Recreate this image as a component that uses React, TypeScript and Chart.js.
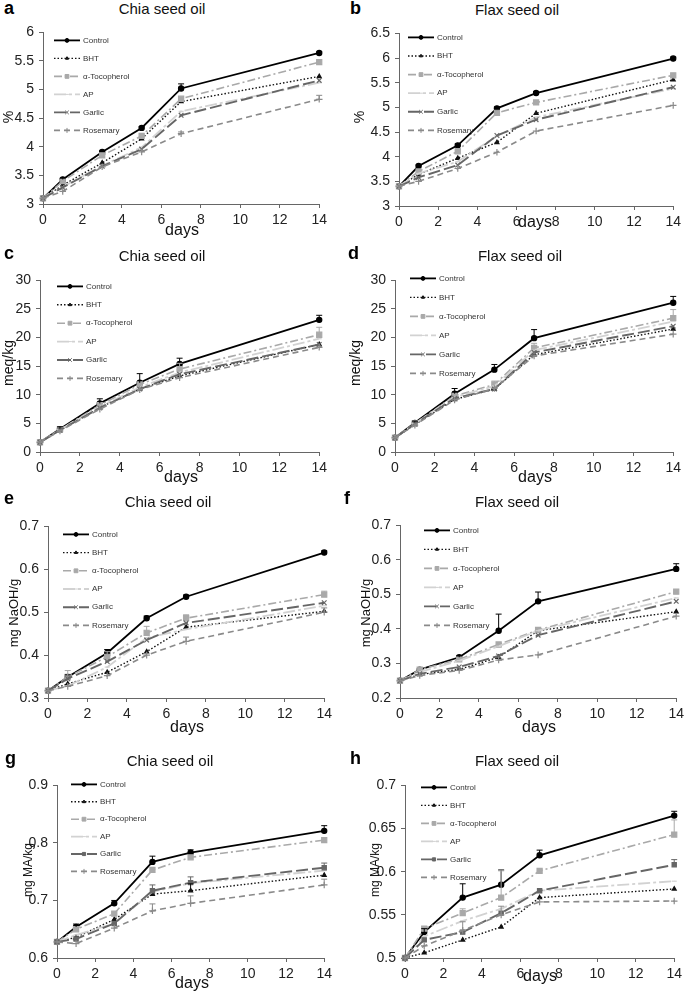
import React, { useEffect, useRef } from 'react';
import { Chart, registerables } from 'chart.js';
import { drawPoint } from 'chart.js/helpers';

Chart.register(...registerables);

// ---------- data ----------
const DAYS = [0, 1, 3, 5, 7, 14];
const SERIES = ['Control', 'BHT', 'α-Tocopherol', 'AP', 'Garlic', 'Rosemary'];

// a: Chia, conjugated dienes (%)
const aControl = [3.10, 3.43, 3.91, 4.33, 5.02, 5.64];
const aBHT = [3.10, 3.33, 3.72, 4.14, 4.79, 5.23];
const aToc = [3.10, 3.40, 3.85, 4.19, 4.84, 5.48];
const aAP = [3.10, 3.30, 3.67, 3.99, 4.62, 5.12];
const aGarlic = [3.10, 3.29, 3.66, 3.96, 4.55, 5.16];
const aRosemary = [3.10, 3.22, 3.65, 3.91, 4.23, 4.83];
const aControlErr = [0, 0.02, 0.02, 0.02, 0.08, 0.02];
const aRosemaryErr = [0, 0, 0, 0, 0.03, 0.07];

// b: Flax (%)
const bControl = [3.40, 3.81, 4.23, 4.98, 5.29, 5.99];
const bBHT = [3.40, 3.64, 3.97, 4.29, 4.88, 5.56];
const bToc = [3.40, 3.70, 4.11, 4.89, 5.10, 5.65];
const bAP = [3.40, 3.66, 3.90, 4.42, 4.80, 5.38];
const bGarlic = [3.40, 3.58, 3.83, 4.43, 4.75, 5.41];
const bRosemary = [3.40, 3.50, 3.76, 4.09, 4.52, 5.04];
const bControlErr = [0, 0.02, 0.03, 0.03, 0.03, 0.03];

// c: Chia, peroxide value (meq/kg)
const cControl = [1.7, 4.0, 8.5, 12.1, 15.4, 23.1];
const cBHT = [1.7, 3.8, 7.8, 11.0, 13.3, 18.8];
const cToc = [1.7, 3.9, 8.2, 11.8, 14.5, 20.5];
const cAP = [1.7, 3.9, 7.9, 11.3, 13.9, 19.8];
const cGarlic = [1.7, 3.8, 7.7, 11.0, 13.6, 18.8];
const cRosemary = [1.7, 3.7, 7.5, 10.9, 13.0, 18.3];
const cControlErr = [0, 0.4, 0.8, 1.6, 1.0, 0.8];
const cTocErr = [0, 0, 0, 0, 1.0, 1.3];

// d: Flax (meq/kg)
const dControl = [2.5, 5.1, 10.2, 14.4, 19.9, 26.1];
const dBHT = [2.5, 4.8, 9.2, 11.0, 17.0, 21.5];
const dToc = [2.5, 5.0, 9.8, 11.8, 18.2, 23.4];
const dAP = [2.5, 5.0, 9.6, 11.5, 17.8, 22.8];
const dGarlic = [2.5, 4.9, 9.4, 11.0, 17.4, 22.0];
const dRosemary = [2.5, 4.7, 9.1, 11.1, 16.8, 20.6];
const dControlErr = [0, 0.3, 0.9, 0.9, 1.5, 1.1];
const dTocErr = [0, 0, 0, 0.6, 0.8, 1.5];

// e: Chia, acid value (mg NaOH/g)
const eControl = [0.317, 0.349, 0.405, 0.486, 0.536, 0.639];
const eBHT = [0.317, 0.333, 0.360, 0.408, 0.465, 0.502];
const eToc = [0.317, 0.349, 0.396, 0.452, 0.486, 0.541];
const eAP = [0.317, 0.328, 0.372, 0.440, 0.460, 0.515];
const eGarlic = [0.317, 0.345, 0.385, 0.435, 0.475, 0.522];
const eRosemary = [0.317, 0.327, 0.352, 0.400, 0.432, 0.500];
const eControlErr = [0, 0.005, 0.008, 0.005, 0.004, 0.004];
const eTocErr = [0, 0.015, 0.012, 0.015, 0.008, 0.008];
const eRosemaryErr = [0, 0, 0, 0, 0.01, 0.01];

// f: Flax (mg NaOH/g)
const fControl = [0.250, 0.282, 0.318, 0.395, 0.480, 0.574];
const fBHT = [0.250, 0.268, 0.283, 0.318, 0.395, 0.450];
const fToc = [0.250, 0.282, 0.312, 0.355, 0.397, 0.508];
const fAP = [0.250, 0.275, 0.308, 0.350, 0.395, 0.490];
const fGarlic = [0.250, 0.270, 0.290, 0.322, 0.382, 0.480];
const fRosemary = [0.250, 0.265, 0.280, 0.310, 0.325, 0.437];
const fControlErr = [0, 0, 0.004, 0.048, 0.027, 0.015];

// g: Chia, TBA (mg MA/kg)
const gControl = [0.628, 0.654, 0.695, 0.767, 0.783, 0.821];
const gBHT = [0.628, 0.636, 0.667, 0.711, 0.717, 0.744];
const gToc = [0.628, 0.650, 0.677, 0.753, 0.775, 0.805];
const gAP = [0.628, 0.640, 0.660, 0.715, 0.730, 0.752];
const gGarlic = [0.628, 0.633, 0.660, 0.717, 0.731, 0.757];
const gRosemary = [0.628, 0.625, 0.652, 0.682, 0.695, 0.727];
const gControlErr = [0, 0.005, 0.005, 0.01, 0.005, 0.009];
const gBHTErr = [0, 0, 0, 0, 0.012, 0];
const gGarlicErr = [0, 0, 0, 0.01, 0.01, 0.008];
const gRosemaryErr = [0, 0, 0, 0.012, 0.013, 0.01];

// h: Flax (mg MA/kg)
const hControl = [0.500, 0.530, 0.570, 0.585, 0.619, 0.665];
const hBHT = [0.500, 0.506, 0.521, 0.536, 0.570, 0.580];
const hToc = [0.500, 0.534, 0.552, 0.570, 0.601, 0.643];
const hAP = [0.500, 0.525, 0.543, 0.557, 0.578, 0.589];
const hGarlic = [0.500, 0.521, 0.530, 0.552, 0.578, 0.608];
const hRosemary = [0.500, 0.514, 0.532, 0.550, 0.565, 0.566];
const hControlErr = [0, 0.004, 0.016, 0.017, 0.006, 0.005];
const hTocErr = [0, 0, 0.005, 0.031, 0, 0.017];
const hGarlicErr = [0, 0, 0, 0, 0, 0.006];
const hRosemaryErr = [0, 0, 0.01, 0.01, 0, 0];

// ---------- styles ----------
const FONT = "'Liberation Sans', Arial, Helvetica, sans-serif";
const STYLES = [
  { color: '#000000', width: 1.8, dash: [], point: 'circle', r: 2.6 },
  { color: '#111111', width: 1.4, dash: [1.5, 2], point: 'triangle', r: 2.3 },
  { color: '#a9a9a9', width: 1.6, dash: [8, 3, 2, 3], point: 'rect', r: 3.6 },
  { color: '#d2d2d2', width: 1.8, dash: [12, 3, 3, 3], point: 'line', r: 2.5 },
  { color: '#666666', width: 1.9, dash: [12, 4], point: 'crossRot', r: 3.3 },
  { color: '#8a8a8a', width: 1.6, dash: [6, 4], point: 'cross', r: 3.3 },
];

type PanelCfg = {
  letter: string; title: string; yTitle: string; yTitleSize: number;
  yMin: number; yMax: number; yStep: number;
  series: number[][]; errors: (number[] | null)[];
  box: { x0: number; x1: number; y0: number; y1: number };
  titleAt: [number, number]; letterAt: [number, number];
  yTitleAt: [number, number]; xTitleAt: [number, number];
  legend: { dx: number; dy: number; gap: number };
  garlicSquare?: boolean;
};

const PANELS: PanelCfg[] = [
  { letter: 'a', title: 'Chia seed oil', yTitle: '%', yTitleSize: 14, yMin: 3, yMax: 6, yStep: 0.5,
    series: [aControl, aBHT, aToc, aAP, aGarlic, aRosemary], errors: [aControlErr, null, null, null, null, aRosemaryErr],
    box: { x0: 43, x1: 321, y0: 29, y1: 204 }, titleAt: [162, 8], letterAt: [4, 8], yTitleAt: [8, 117], xTitleAt: [182, 230],
    legend: { dx: 11, dy: 8, gap: 18 } },
  { letter: 'b', title: 'Flax seed oil', yTitle: '%', yTitleSize: 14, yMin: 3, yMax: 6.5, yStep: 0.5,
    series: [bControl, bBHT, bToc, bAP, bGarlic, bRosemary], errors: [bControlErr, null, null, null, null, null],
    box: { x0: 399, x1: 675, y0: 30, y1: 206 }, titleAt: [517, 9], letterAt: [350, 8], yTitleAt: [359, 117], xTitleAt: [535, 222],
    legend: { dx: 9, dy: 4, gap: 18.6 } },
  { letter: 'c', title: 'Chia seed oil', yTitle: 'meq/kg', yTitleSize: 14, yMin: 0, yMax: 30, yStep: 5,
    series: [cControl, cBHT, cToc, cAP, cGarlic, cRosemary], errors: [cControlErr, null, cTocErr, null, null, null],
    box: { x0: 40, x1: 321, y0: 277, y1: 452 }, titleAt: [162, 255], letterAt: [4, 253], yTitleAt: [8, 363], xTitleAt: [181, 477],
    legend: { dx: 17, dy: 6, gap: 18.4 } },
  { letter: 'd', title: 'Flax seed oil', yTitle: 'meq/kg', yTitleSize: 14, yMin: 0, yMax: 30, yStep: 5,
    series: [dControl, dBHT, dToc, dAP, dGarlic, dRosemary], errors: [dControlErr, null, dTocErr, null, null, null],
    box: { x0: 395, x1: 675, y0: 277, y1: 452 }, titleAt: [520, 255], letterAt: [348, 253], yTitleAt: [355, 363], xTitleAt: [535, 477],
    legend: { dx: 15, dy: -2, gap: 19 } },
  { letter: 'e', title: 'Chia seed oil', yTitle: 'mg NaOH/g', yTitleSize: 13, yMin: 0.3, yMax: 0.7, yStep: 0.1,
    series: [eControl, eBHT, eToc, eAP, eGarlic, eRosemary], errors: [eControlErr, null, eTocErr, null, null, eRosemaryErr],
    box: { x0: 48, x1: 326, y0: 523, y1: 698 }, titleAt: [168, 501], letterAt: [4, 498], yTitleAt: [13, 613], xTitleAt: [187, 727],
    legend: { dx: 15, dy: 8, gap: 18.2 } },
  { letter: 'f', title: 'Flax seed oil', yTitle: 'mg NaOH/g', yTitleSize: 13, yMin: 0.2, yMax: 0.7, yStep: 0.1,
    series: [fControl, fBHT, fToc, fAP, fGarlic, fRosemary], errors: [fControlErr, null, null, null, null, null],
    box: { x0: 400, x1: 678, y0: 522, y1: 698 }, titleAt: [517, 501], letterAt: [344, 498], yTitleAt: [365, 613], xTitleAt: [539, 727],
    legend: { dx: 24, dy: 5, gap: 19 } },
  { letter: 'g', title: 'Chia seed oil', yTitle: 'mg MA/kg', yTitleSize: 12, yMin: 0.6, yMax: 0.9, yStep: 0.1,
    series: [gControl, gBHT, gToc, gAP, gGarlic, gRosemary], errors: [gControlErr, gBHTErr, null, null, gGarlicErr, gRosemaryErr],
    box: { x0: 57, x1: 326, y0: 782, y1: 958 }, titleAt: [170, 760], letterAt: [5, 758], yTitleAt: [28, 870], xTitleAt: [192, 983],
    legend: { dx: 14, dy: -1, gap: 17.4 }, garlicSquare: true },
  { letter: 'h', title: 'Flax seed oil', yTitle: 'mg MA/kg', yTitleSize: 12, yMin: 0.5, yMax: 0.7, yStep: 0.05,
    series: [hControl, hBHT, hToc, hAP, hGarlic, hRosemary], errors: [hControlErr, null, hTocErr, null, hGarlicErr, hRosemaryErr],
    box: { x0: 405, x1: 676, y0: 782, y1: 958 }, titleAt: [517, 760], letterAt: [350, 758], yTitleAt: [375, 870], xTitleAt: [540, 976],
    legend: { dx: 16, dy: 2, gap: 18 }, garlicSquare: true },
];

const YW = 40, PT = 10, PR = 10, XH = 26;

const errorBarPlugin = {
  id: 'errorBars',
  afterDatasetsDraw(chart: any) {
    const ctx = chart.ctx;
    const yScale = chart.scales.y;
    chart.data.datasets.forEach((ds: any, i: number) => {
      if (!ds.errors) return;
      const meta = chart.getDatasetMeta(i);
      ctx.save();
      ctx.strokeStyle = ds.borderColor;
      ctx.lineWidth = 1;
      ctx.setLineDash([]);
      ds.errors.forEach((e: number, j: number) => {
        if (!e) return;
        const pt = meta.data[j];
        const v = ds.data[j].y;
        const yTop = yScale.getPixelForValue(v + e);
        ctx.beginPath();
        ctx.moveTo(pt.x, pt.y);
        ctx.lineTo(pt.x, yTop);
        ctx.moveTo(pt.x - 3, yTop);
        ctx.lineTo(pt.x + 3, yTop);
        ctx.stroke();
      });
      ctx.restore();
    });
  },
};

const legendPlugin = {
  id: 'lineLegend',
  afterDraw(chart: any, _args: any, opts: any) {
    const ctx = chart.ctx;
    const { left, top } = chart.chartArea;
    chart.data.datasets.forEach((ds: any, i: number) => {
      const x = left + opts.dx;
      const y = top + opts.dy + i * opts.gap;
      ctx.save();
      ctx.strokeStyle = ds.borderColor;
      ctx.lineWidth = ds.borderWidth;
      ctx.setLineDash(ds.borderDash || []);
      ctx.beginPath();
      ctx.moveTo(x, y);
      ctx.lineTo(x + 26, y);
      ctx.stroke();
      ctx.setLineDash([]);
      ctx.fillStyle = ds.pointBackgroundColor;
      ctx.strokeStyle = ds.pointBorderColor;
      ctx.lineWidth = 1;
      drawPoint(ctx, { pointStyle: ds.pointStyle, radius: ds.pointRadius * 0.75, rotation: 0, borderWidth: 1 }, x + 13, y);
      ctx.fillStyle = '#333';
      ctx.font = `8px ${FONT}`;
      ctx.textBaseline = 'middle';
      ctx.textAlign = 'left';
      ctx.fillText(ds.label, x + 29, y);
      ctx.restore();
    });
  },
};

function Panel({ p }: { p: PanelCfg }) {
  const ref = useRef<HTMLCanvasElement>(null);
  const left = p.box.x0 - YW;
  const top = p.box.y0 - PT;
  const w = p.box.x1 - p.box.x0 + YW + PR;
  const h = p.box.y1 - p.box.y0 + PT + XH;

  useEffect(() => {
    const datasets = p.series.map((vals, i) => {
      const s = STYLES[i];
      const pointStyle = i === 4 && p.garlicSquare ? 'rect' : s.point;
      const r = i === 4 && p.garlicSquare ? 3 : s.r;
      return {
        label: SERIES[i],
        data: DAYS.map((d, k) => ({ x: d, y: vals[k] })),
        errors: p.errors[i],
        borderColor: s.color,
        backgroundColor: s.color,
        borderWidth: s.width,
        borderDash: s.dash,
        pointStyle,
        pointRadius: r,
        pointBackgroundColor: s.color,
        pointBorderColor: s.color,
        pointBorderWidth: 1.2,
        tension: 0,
        clip: false as any,
        order: 6 - i,
      };
    });
    const tickFont = { family: FONT, size: 14 };
    const chart = new Chart(ref.current as HTMLCanvasElement, {
      type: 'line',
      data: { datasets: datasets as any },
      plugins: [errorBarPlugin, legendPlugin],
      options: {
        animation: false,
        responsive: false,
        events: [],
        layout: { padding: { top: PT, right: PR, left: 0, bottom: 0 } },
        plugins: {
          legend: { display: false },
          tooltip: { enabled: false },
          title: { display: false },
          lineLegend: p.legend,
        } as any,
        scales: {
          x: {
            type: 'linear', min: 0, max: 14,
            ticks: { stepSize: 2, font: tickFont, color: '#222', padding: 4, maxRotation: 0, autoSkip: false },
            grid: { display: true, drawOnChartArea: false, drawTicks: true, tickLength: 4, color: '#666' },
            border: { display: true, color: '#666', width: 1 },
            afterFit: (s: any) => { s.height = XH; },
          },
          y: {
            type: 'linear', min: p.yMin, max: p.yMax,
            ticks: {
              stepSize: p.yStep, font: tickFont, color: '#222', padding: 5, autoSkip: false,
              callback: (v: any) => String(Math.round(Number(v) * 1000) / 1000),
            },
            grid: { display: true, drawOnChartArea: false, drawTicks: true, tickLength: 4, color: '#666' },
            border: { display: true, color: '#666', width: 1 },
            afterFit: (s: any) => { s.width = YW; },
          },
        } as any,
      },
    });
    return () => chart.destroy();
  }, [p]);

  const textBase: React.CSSProperties = { position: 'absolute', fontFamily: FONT, color: '#111', whiteSpace: 'nowrap', lineHeight: 1 };
  return (
    <>
      <canvas ref={ref} width={w} height={h} style={{ position: 'absolute', left, top, width: w, height: h, display: 'block' }} />
      <div style={{ ...textBase, left: p.letterAt[0], top: p.letterAt[1], transform: 'translateY(-50%)', fontWeight: 'bold', fontSize: 18, color: '#000' }}>{p.letter}</div>
      <div style={{ ...textBase, left: p.titleAt[0], top: p.titleAt[1], transform: 'translate(-50%,-50%)', fontSize: 15 }}>{p.title}</div>
      <div style={{ ...textBase, left: p.xTitleAt[0], top: p.xTitleAt[1], transform: 'translate(-50%,-50%)', fontSize: 16 }}>days</div>
      <div style={{ ...textBase, left: p.yTitleAt[0], top: p.yTitleAt[1], transform: 'translate(-50%,-50%) rotate(-90deg)', fontSize: p.yTitleSize }}>{p.yTitle}</div>
    </>
  );
}

export default function App() {
  return (
    <div style={{ position: 'absolute', left: 0, top: 0, width: 685, height: 991, overflow: 'hidden', background: '#fff' }}>
      {PANELS.map((p) => (
        <Panel key={p.letter} p={p} />
      ))}
    </div>
  );
}
